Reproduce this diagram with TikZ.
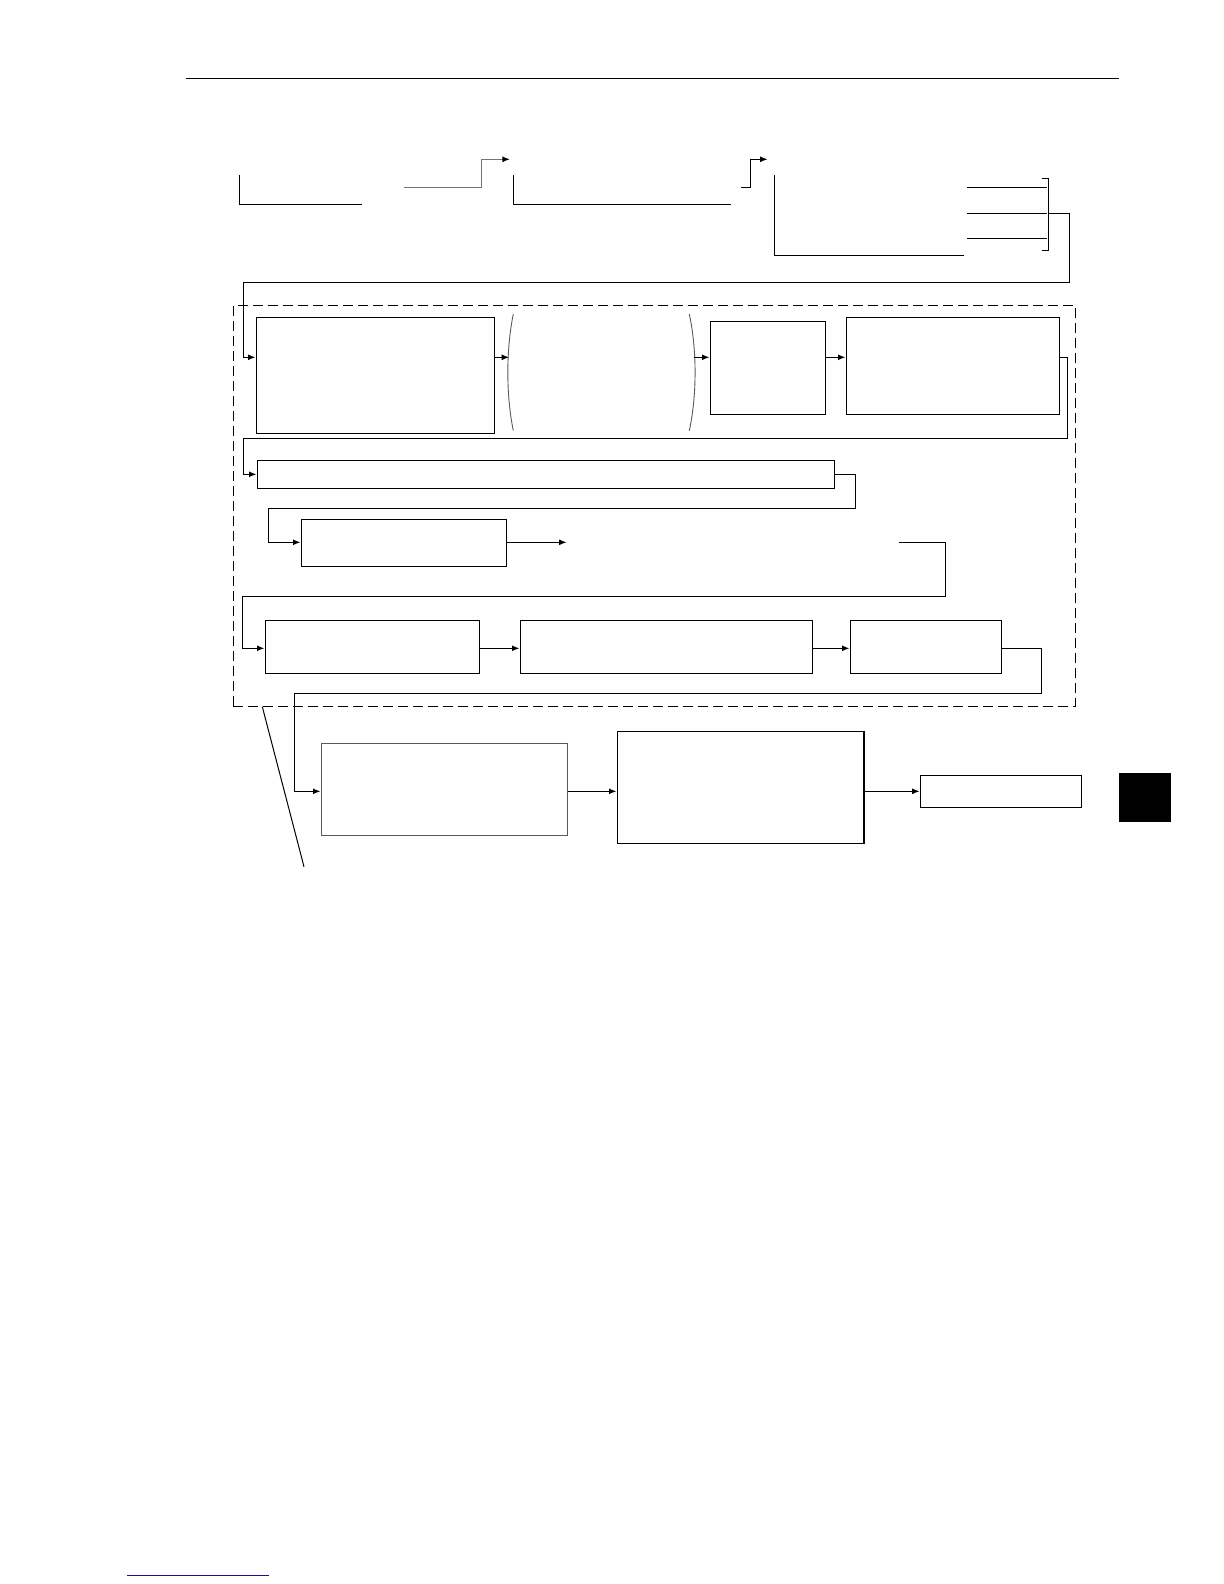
\documentclass[tikz,border=0pt]{standalone}
\usetikzlibrary{arrows.meta,fit}
\definecolor{linkblue}{RGB}{20,20,150}
\begin{document}
\begin{tikzpicture}[x=0.5pt,y=-0.5pt,line width=0.7pt,
  box/.style={draw,inner sep=0pt},
  arr/.style={-{Latex[length=3.8pt,width=3pt]}},
  grayarr/.style={draw=black!55,-{Latex[length=3.8pt,width=3pt,color=black]}},
  thinarc/.style={line width=0.45pt,draw=black!65}]
\useasboundingbox (0,0) rectangle (1224,1584);
% header rule
\draw (186,78.3) -- (1119,78.3);
% top row
\draw (239.3,175) -- (239.3,204.3) -- (361.7,204.3);
\coordinate (t1) at (510,159.3);
\draw[grayarr] (404,187.7) -- (481.7,187.7) -- (481.7,159.3) -- (t1);
\draw (513.3,175) -- (513.3,204.3) -- (730.7,204.3);
\coordinate (t2) at (767.7,159.3);
\draw[arr] (741,187.7) -- (750.3,187.7) -- (750.3,159.3) -- (t2);
\draw (774.3,175) -- (774.3,255.3) -- (963.7,255.3);
\foreach \y in {187.3,213.3,238.3} \draw (967.3,\y) -- (1046.7,\y);
\draw (1042.3,178.7) -- (1048.7,178.7) -- (1048.7,250.3) -- (1042.3,250.3);
\coordinate (br) at (1048.7,213.3);
% dashed group
\node[box,dash pattern=on 5pt off 2.5pt,fit={(233.3,305.7) (1075.3,706.3)}] (grp) {};
% boxes
\node[box,fit={(256.3,317.3) (494.3,433.3)}] (A) {};
\node[box,fit={(710.3,321.3) (825.7,414.3)}] (B) {};
\node[box,fit={(846.3,317.3) (1059.3,414.3)}] (C) {};
\node[box,fit={(257.3,460.3) (834.3,488.3)}] (D) {};
\node[box,fit={(301.3,519.3) (506.7,566.3)}] (E) {};
\node[box,fit={(265.3,620.3) (479.3,673.3)}] (F) {};
\node[box,fit={(520.3,620.3) (812.3,673.3)}] (G) {};
\node[box,fit={(850.3,620.3) (1001.7,673.3)}] (H) {};
\node[box,draw=black!65,fit={(321.3,743.3) (567.3,835.3)}] (I) {};
\node[box,fit={(617.3,731.3) (863.8,843.3)}] (J) {};
\node[box,fit={(920.4,775.3) (1081.3,807.3)}] (K) {};
\node[fill=black,inner sep=0pt,fit={(1119,773) (1171,822)}] (tab) {};
% parentheses
\coordinate (pl) at (509.3,357.3);
\coordinate (pr) at (693.7,357.3);
\draw[thinarc] (513.3,314) .. controls (506,350) and (506,395) .. (513.3,430.7);
\draw[thinarc] (689.3,314) .. controls (697,350) and (697,395) .. (689.3,430.7);
% connectors
\draw[arr] (br) -- (1069.3,213.3) -- (1069.3,282.5) -- (243.3,282.5) -- (243.3,357.3) -- (A.west |- 0,357.3);
\draw[arr] (A.east |- 0,357.3) -- (pl);
\draw[arr] (pr) -- (B.west |- 0,357.3);
\draw[arr] (B.east |- 0,357.3) -- (C.west |- 0,357.3);
\draw[arr] (C.east |- 0,357.3) -- (1067.3,357.3) -- (1067.3,438.3) -- (243.3,438.3) -- (243.3,474.3) -- (D.west |- 0,474.3);
\draw[arr] (D.east |- 0,474.3) -- (855.3,474.3) -- (855.3,508.3) -- (268.3,508.3) -- (268.3,542.3) -- (E.west |- 0,542.3);
\coordinate (e1) at (566.7,542.3);
\draw[arr] (E.east |- 0,542.3) -- (e1);
\coordinate (e2) at (899.3,542.3);
\draw[arr] (e2) -- (945.3,542.3) -- (945.3,596.3) -- (242.3,596.3) -- (242.3,648.3) -- (F.west |- 0,648.3);
\draw[arr] (F.east |- 0,648.3) -- (G.west |- 0,648.3);
\draw[arr] (G.east |- 0,648.3) -- (H.west |- 0,648.3);
\draw[arr] (H.east |- 0,648.3) -- (1041.3,648.3) -- (1041.3,693.3) -- (294.3,693.3) -- (294.3,791.3) -- (I.west |- 0,791.3);
\draw[arr] (I.east |- 0,791.3) -- (J.west |- 0,791.3);
\draw[arr] (J.east |- 0,791.3) -- (K.west |- 0,791.3);
% leader line
\coordinate (ld) at (304,866.7);
\draw[line width=0.5pt] (262.3,706.7) -- (ld);
% footer link line
\draw[linkblue,line width=0.8pt] (127,1575.3) -- (269,1575.3);
\end{tikzpicture}
\end{document}
